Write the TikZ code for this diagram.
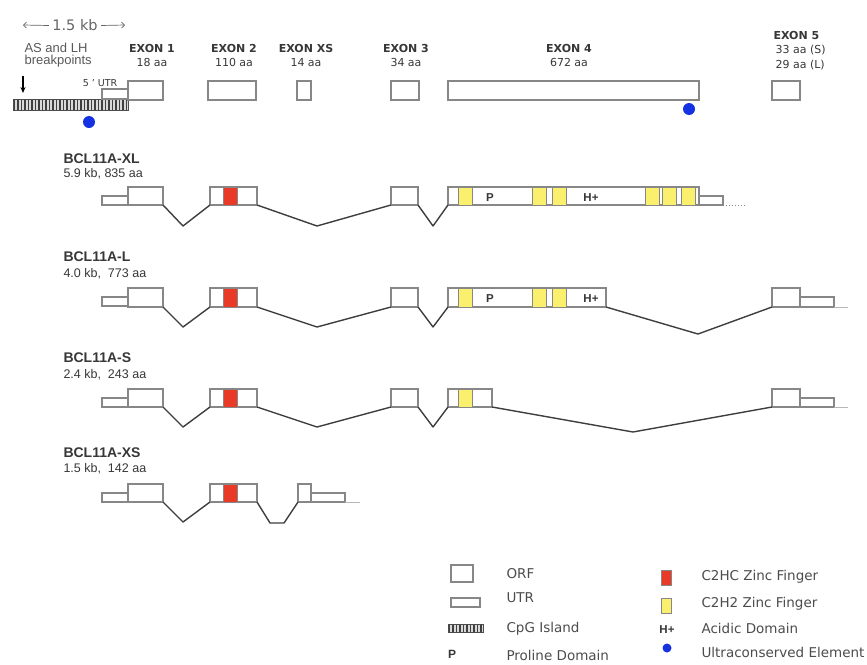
\documentclass[tikz,border=0pt]{standalone}
\usepackage{fontspec}
\setmainfont{DejaVu Sans}
\newfontfamily\arialfont{Liberation Sans}
\usetikzlibrary{arrows.meta, positioning}
\definecolor{boxgray}{RGB}{135,135,135}
\definecolor{introngray}{RGB}{62,62,62}
\definecolor{znred}{RGB}{232,58,38}
\definecolor{znyellow}{RGB}{250,240,110}
\definecolor{ucblue}{RGB}{20,50,225}
\definecolor{txtgray}{RGB}{55,55,55}

\begin{document}
\begin{tikzpicture}[x=1pt,y=-1pt,
          orf/.style={draw=boxgray,line width=1.1pt,fill=white,inner sep=0pt,outer sep=0pt,
                      anchor=north west,minimum height=18pt},
          utr/.style={orf,minimum height=9pt},
          cpgbar/.style={draw=black!70,line width=0.8pt,fill=gray!30,inner sep=0pt,outer sep=0pt,
                      anchor=north west,
                      path picture={\foreach \i in {0,...,40}
                        \draw[black!75,line width=1.5pt]
                          ([xshift=1.6pt+\i*3.5pt]path picture bounding box.south west)--++(0,14pt);}},
          c2hc/.style={draw=boxgray,line width=0.8pt,fill=znred,inner sep=0pt,outer sep=0pt,
                      anchor=north west,minimum width=14pt,minimum height=18pt},
          c2h2/.style={c2hc,fill=znyellow},
          intron/.style={draw=introngray,line width=1.4pt,line join=round},
          exlab/.style={anchor=base,text=txtgray,font=\bfseries\fontsize{11}{12}\selectfont},
          aalab/.style={anchor=base,text=txtgray,font=\fontsize{11}{12}\selectfont},
          iso/.style={anchor=base west,text=txtgray,font=\arialfont\bfseries\fontsize{14}{16}\selectfont},
          isoinfo/.style={anchor=base west,text=txtgray,font=\arialfont\fontsize{12.5}{14}\selectfont},
          dom/.style={anchor=base,text=txtgray,font=\arialfont\bfseries\fontsize{11.5}{13}\selectfont},
          legtext/.style={anchor=base west,text=black!70,font=\fontsize{13.5}{15}\selectfont},
          uce/.style={circle,fill=ucblue,inner sep=0pt,minimum size=12pt}]
        \useasboundingbox (0,0) rectangle (867,664);
        \node[aalab,text=black!60,font=\fontsize{14.5}{16}\selectfont](kb) at (75,30){1.5 kb};
        \coordinate (kbL) at (23,25);
        \coordinate (kbR) at (125,25);
        \draw[-{Straight Barb[length=3pt]},line width=0.7pt,black!60]([yshift=4.5pt]kb.base west)--(kbL);
        \draw[-{Straight Barb[length=3pt]},line width=0.7pt,black!60]([yshift=4.5pt]kb.base east)--(kbR);
        \node[isoinfo,text=black!65,font=\arialfont\fontsize{13}{14}\selectfont](bp1) at (21,52){AS and LH};
        \node[isoinfo,text=black!65,font=\arialfont\fontsize{13}{14}\selectfont](bp2) at (21,64){breakpoints};
        \coordinate (bpTop) at (23,76);
        \coordinate (bpTip) at (23,93);
        \draw[-{Stealth[length=6pt,width=5pt]},line width=1.3pt](bpTop)--(bpTip);
        \node[exlab](e1lab) at (152,52){EXON 1};
        \node[aalab](e1aa) at (152,66){18 aa};
        \node[exlab](e2lab) at (234,52){EXON 2};
        \node[aalab](e2aa) at (234,66){110 aa};
        \node[exlab](exslab) at (306,52){EXON XS};
        \node[aalab](exsaa) at (306,66){14 aa};
        \node[exlab](e3lab) at (406,52){EXON 3};
        \node[aalab](e3aa) at (406,66){34 aa};
        \node[exlab](e4lab) at (569,52){EXON 4};
        \node[aalab](e4aa) at (569,66){672 aa};
        \node[exlab,anchor=base west](e5lab) at (770,39){EXON 5};
        \node[aalab,anchor=base west](e5aaS) at (772,53){33 aa (S)};
        \node[aalab,anchor=base west](e5aaL) at (772,68){29 aa (L)};
        \node[aalab,font=\fontsize{9.5}{10}\selectfont](utrlab) at (100,86){5 ' UTR};
        \node[cpgbar,minimum width=115pt,minimum height=11pt](cpg) at (13,99){};
        \node[utr,minimum width=26pt,minimum height=10pt](utr5) at (102,89){};
        \node[orf,minimum width=35pt,minimum height=19pt](e1) at (128,81){};
        \node[orf,minimum width=48pt,minimum height=19pt](e2) at (208,81){};
        \node[orf,minimum width=14pt,minimum height=19pt](exs) at (297,81){};
        \node[orf,minimum width=28pt,minimum height=19pt](e3) at (391,81){};
        \node[orf,minimum width=251pt,minimum height=19pt](e4) at (448,81){};
        \node[orf,minimum width=28pt,minimum height=19pt](e5) at (772,81){};
        \node[uce](uce1) at (89,122){};
        \node[uce](uce2) at (689,109){};

        \node[iso](xllab) at (60,163){BCL11A-XL};
        \node[isoinfo](xlinfo) at (60,177){5.9 kb, 835 aa};
        \node[utr,minimum width=26pt](xlU) at (102,196){};
        \node[orf,minimum width=35pt](xl1) at (128,187){};
        \node[orf,minimum width=47pt](xl2) at (210,187){};
        \node[c2hc](xlr) at (223,187){};
        \node[orf,minimum width=27pt](xl3) at (391,187){};
        \node[orf,minimum width=251pt](xl4) at (448,187){};
        \foreach \x in {458,532,552,645,662,681}
          \node[c2h2](xly\x) at (\x,187){};
        \node[dom](xlP) at (490,201){P};
        \node[dom](xlH) at (591,201){H+};
        \node[utr,minimum width=24pt](xlT) at (699,196){};
        \coordinate (xlEnd) at (745,205);
        \draw[intron](xl1.south east)--(183,226)--(xl2.south west);
        \draw[intron](xl2.south east)--(317,226)--(xl3.south west);
        \draw[intron](xl3.south east)--(433,226)--(xl4.south west);
        \draw[boxgray,line width=1pt,dotted](xlT.south east)--(xlEnd);

        \node[iso](llab) at (60,261){BCL11A-L};
        \node[isoinfo](linfo) at (60,277){4.0 kb,\ \ 773 aa};
        \node[utr,minimum width=26pt](lU) at (102,297){};
        \node[orf,minimum width=35pt,minimum height=19pt](l1) at (128,288){};
        \node[orf,minimum width=47pt,minimum height=19pt](l2) at (210,288){};
        \node[c2hc,minimum height=19pt](lr) at (223,288){};
        \node[orf,minimum width=27pt,minimum height=19pt](l3) at (391,288){};
        \node[orf,minimum width=158pt,minimum height=19pt](l4) at (448,288){};
        \foreach \x in {458,532,552}
          \node[c2h2,minimum height=19pt](ly\x) at (\x,288){};
        \node[dom](lP) at (490,302){P};
        \node[dom](lH) at (591,302){H+};
        \node[orf,minimum width=28pt,minimum height=19pt](l5) at (772,288){};
        \node[utr,minimum width=34pt,minimum height=10pt](lT) at (800,297){};
        \coordinate (lEnd) at (848,307);
        \draw[intron](l1.south east)--(183,327)--(l2.south west);
        \draw[intron](l2.south east)--(317,327)--(l3.south west);
        \draw[intron](l3.south east)--(433,327)--(l4.south west);
        \draw[intron](l4.south east)--(698,334)--(l5.south west);
        \draw[boxgray!60,line width=0.8pt](lT.south east)--(lEnd);

        \node[iso](slab) at (60,362){BCL11A-S};
        \node[isoinfo](sinfo) at (60,378){2.4 kb,\ \ 243 aa};
        \node[utr,minimum width=26pt](sU) at (102,398){};
        \node[orf,minimum width=35pt](s1) at (128,389){};
        \node[orf,minimum width=47pt](s2) at (210,389){};
        \node[c2hc](sr) at (223,389){};
        \node[orf,minimum width=27pt](s3) at (391,389){};
        \node[orf,minimum width=44pt](s4) at (448,389){};
        \node[c2h2](sy) at (458,389){};
        \node[orf,minimum width=28pt](s5) at (772,389){};
        \node[utr,minimum width=34pt](sT) at (800,398){};
        \coordinate (sEnd) at (848,407);
        \draw[intron](s1.south east)--(183,427)--(s2.south west);
        \draw[intron](s2.south east)--(317,427)--(s3.south west);
        \draw[intron](s3.south east)--(433,427)--(s4.south west);
        \draw[intron](s4.south east)--(633,432)--(s5.south west);
        \draw[boxgray!60,line width=0.8pt](sT.south east)--(sEnd);

        \node[iso](xslab) at (60,457){BCL11A-XS};
        \node[isoinfo](xsinfo) at (60,472){1.5 kb,\ \ 142 aa};
        \node[utr,minimum width=26pt](xsU) at (102,493){};
        \node[orf,minimum width=35pt](xs1) at (128,484){};
        \node[orf,minimum width=47pt](xs2) at (210,484){};
        \node[c2hc](xsr) at (223,484){};
        \node[orf,minimum width=13pt](xsX) at (298,484){};
        \node[utr,minimum width=34pt](xsT) at (311,493){};
        \coordinate (xsEnd) at (360,502);
        \draw[intron](xs1.south east)--(183,522)--(xs2.south west);
        \draw[intron](xs2.south east)--(270,523)--(284,523)--(xsX.south west);
        \draw[boxgray!60,line width=0.8pt](xsT.south east)--(xsEnd);

        \node[orf,minimum width=22pt,minimum height=17pt](lgORF) at (451,565){};
        \node[legtext](lgORFt) at (503,578){ORF};
        \node[utr,minimum width=29pt](lgUTR) at (451,598){};
        \node[legtext](lgUTRt) at (503,602){UTR};
        \node[cpgbar,minimum width=35pt,minimum height=8pt](lgCpG) at (448,624){};
        \node[legtext](lgCpGt) at (503,632){CpG Island};
        \node[dom,font=\arialfont\bfseries\fontsize{12}{13}\selectfont](lgP) at (452,658){P};
        \node[legtext](lgPt) at (503,660){Proline Domain};
        \node[c2hc,minimum width=10pt,minimum height=15pt](lgRed) at (661,570){};
        \node[legtext](lgRedt) at (698,580){C2HC Zinc Finger};
        \node[c2h2,minimum width=10pt,minimum height=15pt](lgYel) at (661,598){};
        \node[legtext](lgYelt) at (698,607){C2H2 Zinc Finger};
        \node[dom](lgH) at (667,633){H+};
        \node[legtext](lgHt) at (698,633){Acidic Domain};
        \node[uce,minimum size=9pt](lgUce) at (667,648){};
        \node[legtext](lgUcet) at (698,657){Ultraconserved Element};
      \end{tikzpicture}
\end{document}
